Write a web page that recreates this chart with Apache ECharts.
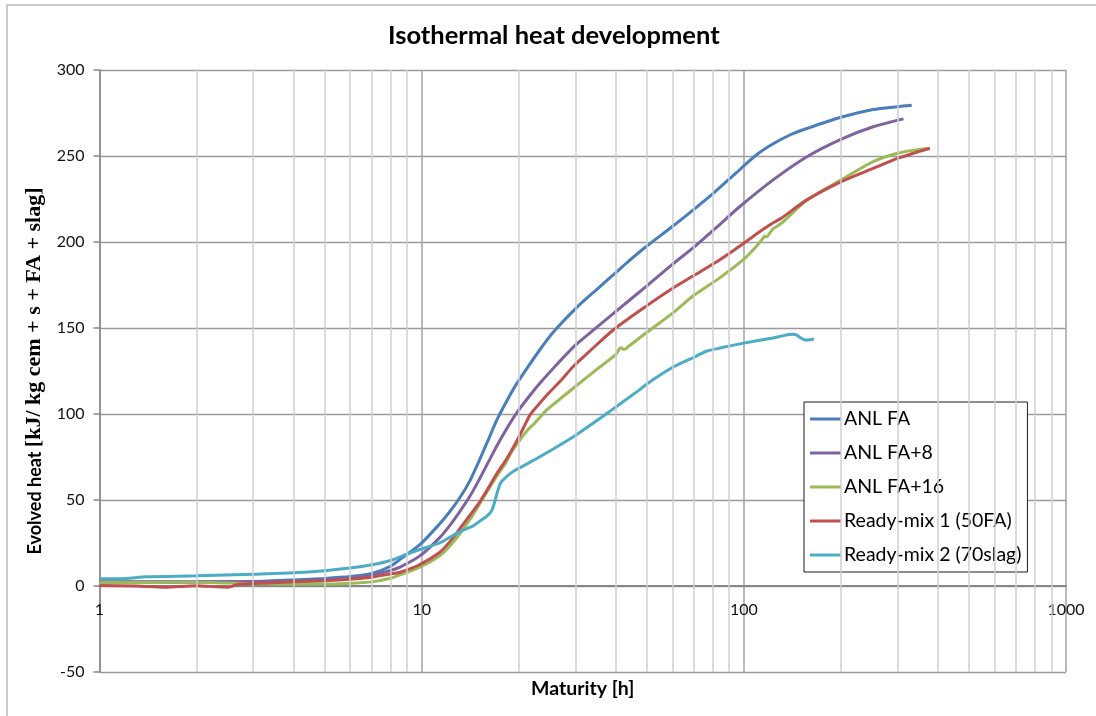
<!DOCTYPE html>
<html>
<head>
<meta charset="utf-8">
<title>Isothermal heat development</title>
<script src="https://cdn.jsdelivr.net/npm/echarts@6/dist/echarts.min.js"></script>
<style>
  html, body { margin: 0; padding: 0; background: #fff; }
  #chart { width: 1096px; height: 716px; }
</style>
</head>
<body>
<div id="chart"></div>
<script>
// Cumulative heat of hydration vs. maturity, five mixes.
var seriesNames = ['ANL FA', 'ANL FA+8', 'ANL FA+16', 'Ready-mix 1 (50FA)', 'Ready-mix 2 (70slag)'];
var seriesColors = ['#4a7ebb', '#7f63a1', '#9bbb59', '#c0504d', '#4bacc6'];

var anlFaT = [1, 1.5, 2, 3, 4, 5, 6, 7, 8, 8.57, 9.87, 11.36, 12.2, 13.1, 14.1, 15.1, 16.1, 17.06, 18.3, 19.7, 21.3, 23.3, 25.6, 30.3, 35, 39.4, 44, 49.9, 60, 70, 80, 97, 110, 123, 140, 157, 200, 252, 300, 332];
var anlFaQ = [2.2, 2.2, 2.3, 2.6, 3.5, 4.4, 5.5, 7.3, 11.5, 15.5, 24, 36, 43, 51, 61, 73, 85, 96, 107, 117.5, 127, 137.5, 147.5, 162, 172.5, 181, 189, 197.5, 209, 219, 228, 242, 251, 257, 262.5, 266, 272.5, 277, 278.7, 279.5];

var anlFa8T = [1, 2, 3, 4, 5, 6, 7, 8, 8.57, 9.87, 11.36, 12.2, 13.1, 14.1, 15.1, 16.1, 17.06, 18.3, 19.7, 21.3, 23.3, 25.6, 30, 35, 40, 50, 60, 70, 84, 97, 123, 157, 200, 252, 313];
var anlFa8Q = [2.5, 2.5, 2.6, 2.8, 3.5, 4.5, 6.3, 9, 11, 17.5, 28, 35, 43, 52, 62, 72, 81, 91, 100.5, 109, 118, 126.5, 140, 150.5, 159.5, 174.5, 187, 197, 210, 220.5, 236, 249.6, 259.7, 267, 271.6];

var anlFa16T = [1, 1.5, 2, 3, 4, 5, 6, 7, 8, 8.57, 9.87, 11.36, 12.2, 13.1, 14.1, 15.1, 16.1, 17.06, 18.3, 19, 20.2, 21.3, 22.5, 24.5, 27, 30, 35, 40, 41.5, 42.5, 44, 50, 60, 70, 84, 100, 110, 115, 116, 117.5, 123, 131, 157, 200, 252, 300, 352, 372];
var anlFa16Q = [2, 2.1, 2.2, 1.3, 1.2, 1.1, 1.6, 2.4, 4.5, 6.5, 11, 17.5, 23, 30, 38.5, 47.5, 56, 63.5, 72, 78, 85, 90.5, 95, 102.5, 109, 116, 126, 134.5, 138.5, 137.5, 139.5, 147.5, 158.5, 169, 179, 190, 198, 202.5, 203.5, 203, 207.5, 211, 224.4, 236, 246.7, 251.6, 253.9, 254.3];

var readyMix1T = [1, 1.3, 1.6, 2, 2.3, 2.5, 2.7, 3, 4, 5, 6, 7, 8, 8.57, 9.87, 11.36, 12.2, 13.1, 14.1, 15.1, 16.1, 17.06, 18.3, 19.7, 20.7, 21.7, 22.7, 24.6, 26.9, 29.5, 33, 39.4, 50, 60, 70, 84, 97, 110, 123, 131, 157, 200, 252, 300, 378];
var readyMix1Q = [0.3, 0, -0.7, 0.2, -0.5, -0.7, 1, 1.4, 2.4, 3.1, 3.9, 5.1, 7, 8, 12.5, 19.5, 25.5, 33, 41, 48.5, 57, 65, 73.5, 84, 92, 99.5, 104, 111.5, 119, 127.5, 136, 149, 163, 173, 180.5, 189.5, 197.5, 205, 211, 214, 224.5, 235, 242.8, 248.6, 254.5];

var readyMix2T = [1, 1.16, 1.4, 2, 3, 4, 5, 6, 7, 8, 9, 9.87, 11.36, 13.1, 14.45, 15.1, 15.9, 16.4, 16.8, 17.2, 17.6, 18.2, 19.2, 20.2, 22.2, 25, 28, 30, 35.8, 40, 47.4, 50, 60, 70, 76.5, 85, 100, 123, 142, 146, 150, 155, 160, 165];
var readyMix2Q = [4.2, 4.2, 5.4, 5.9, 6.9, 7.7, 8.9, 10.4, 12.3, 14.8, 18.5, 21.2, 25, 31.5, 35, 37.5, 40.5, 43, 48, 55, 60, 63, 66.5, 68.8, 73, 78.5, 84, 87.5, 97.5, 104, 114, 117.5, 127, 133, 136.5, 138.5, 141.2, 144.2, 146.3, 145.8, 144.3, 143, 143.2, 143.6];

// Axis ticks: log decades on x, heat on y.
var xMajorTicks = [1, 10, 100, 1000];
var xMinorTicks = [2, 3, 4, 5, 6, 7, 8, 9, 20, 30, 40, 50, 60, 70, 80, 90, 200, 300, 400, 500, 600, 700, 800, 900];
var yMin = -50, yMax = 300, yStep = 50;

function pairs(t, q) {
  return t.map(function (v, i) { return [v, q[i]]; });
}

var seriesData = [
  pairs(anlFaT, anlFaQ),
  pairs(anlFa8T, anlFa8Q),
  pairs(anlFa16T, anlFa16Q),
  pairs(readyMix1T, readyMix1Q),
  pairs(readyMix2T, readyMix2Q)
];

var sansFont = 'Lato, "Open Sans", sans-serif';
var serifFont = '"Liberation Serif", "DejaVu Serif", serif';

// Plot box in pixels; the maturity axis sits on the zero line of the heat axis.
var gridBox = { left: 99.5, right: 30, top: 70, bottom: 44 };
var plotHeight = 716 - gridBox.top - gridBox.bottom;
var zeroOffset = -plotHeight * (0 - yMin) / (yMax - yMin);

var series = [{
  // minor decade gridlines
  name: '_minor',
  type: 'line',
  data: [],
  silent: true,
  z: 1,
  markLine: {
    silent: true,
    symbol: ['none', 'none'],
    label: { show: false },
    animation: false,
    lineStyle: { color: '#cfcfcf', width: 1.5, type: 'solid' },
    data: xMinorTicks.map(function (v) { return { xAxis: v }; })
  }
}];

seriesNames.forEach(function (name, i) {
  series.push({
    name: name,
    type: 'line',
    data: seriesData[i],
    showSymbol: false,
    smooth: 0.25,
    z: 3,
    lineStyle: { color: seriesColors[i], width: 3 },
    itemStyle: { color: seriesColors[i] },
    emphasis: { disabled: true }
  });
});

var chart = echarts.init(document.getElementById('chart'), null, { renderer: 'canvas' });
chart.setOption({
  animation: false,
  backgroundColor: '#ffffff',
  graphic: [{
    type: 'rect',
    z: -1,
    shape: { x: 7, y: 5, width: 1200, height: 800 },
    style: { fill: 'none', stroke: '#b9b9b9', lineWidth: 1.5 }
  }],
  title: {
    text: 'Isothermal heat development',
    left: 383,
    top: 18,
    padding: [5, 5, 5, 5],
    textStyle: { fontFamily: sansFont, fontWeight: 'bold', fontSize: 25.5, color: '#000' }
  },
  grid: {
    left: gridBox.left, right: gridBox.right, top: gridBox.top, bottom: gridBox.bottom,
    containLabel: false,
    outerBoundsMode: 'none'
  },
  legend: {
    data: seriesNames,
    orient: 'vertical',
    left: 804,
    top: 402,
    padding: [7, 6, 7, 6],
    itemGap: 14,
    itemWidth: 31,
    itemHeight: 3,
    icon: 'rect',
    backgroundColor: '#ffffff',
    borderColor: '#1a1a1a',
    borderWidth: 1,
    selectedMode: false,
    textStyle: { fontFamily: sansFont, fontSize: 19.5, color: '#000', lineHeight: 20, padding: [0, 0, 0, -2] }
  },
  xAxis: {
    type: 'log',
    logBase: 10,
    min: xMajorTicks[0],
    max: xMajorTicks[xMajorTicks.length - 1],
    position: 'bottom',
    offset: zeroOffset,
    name: 'Maturity [h]',
    nameLocation: 'middle',
    nameGap: 93,
    nameTextStyle: { fontFamily: sansFont, fontWeight: 'bold', fontSize: 19.5, color: '#000' },
    axisLine: { show: true, onZero: false, lineStyle: { color: '#868686', width: 2 } },
    axisTick: { show: false },
    axisLabel: {
      fontFamily: sansFont, fontSize: 16, color: '#111', margin: 16,
      formatter: function (v) { return String(v); }
    },
    splitLine: { show: true, lineStyle: { color: '#a3a3a3', width: 1.5 } }
  },
  yAxis: {
    type: 'value',
    min: yMin,
    max: yMax,
    interval: yStep,
    name: '{a|Evolved heat }{b|[kJ/ kg cem + s + FA + slag]}',
    nameLocation: 'middle',
    nameGap: 46,
    nameTextStyle: {
      rich: {
        a: { fontFamily: sansFont, fontWeight: 'bold', fontSize: 18, color: '#000' },
        b: { fontFamily: serifFont, fontWeight: 'bold', fontSize: 22, color: '#000' }
      }
    },
    axisLine: { show: true, onZero: false, lineStyle: { color: '#868686', width: 1.5 } },
    axisTick: { show: true, length: 6, lineStyle: { color: '#868686', width: 1.5 } },
    axisLabel: { fontFamily: sansFont, fontSize: 16, color: '#111', margin: 15 },
    splitLine: { show: true, lineStyle: { color: '#9a9a9a', width: 1.3 } }
  },
  series: series
});
</script>
</body>
</html>
